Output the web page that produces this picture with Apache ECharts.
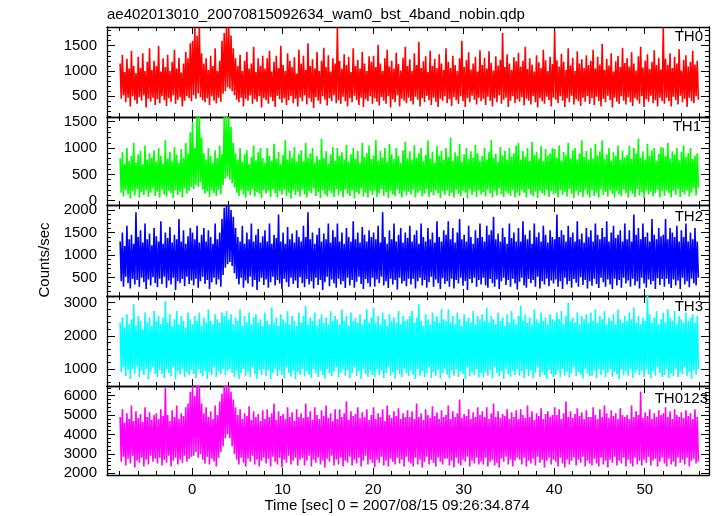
<!DOCTYPE html>
<html><head><meta charset="utf-8">
<script src="https://cdn.jsdelivr.net/npm/echarts@6/dist/echarts.min.js"></script>
<style>html,body{margin:0;padding:0;background:#fff}#c{width:717px;height:516px}</style>
</head><body><div id="c"></div>
<script>
const chartTitle = 'ae402013010_20070815092634_wam0_bst_4band_nobin.qdp';
const xTitle = 'Time [sec] 0 = 2007/08/15 09:26:34.874';
const yTitle = 'Counts/sec';
const bandNames = ['TH0', 'TH1', 'TH2', 'TH3', 'TH0123'];
// sampling grid of the light curves (seconds)
const tStart = -7.95, tStep = 0.125;
const xTickLabels = [0, 10, 20, 30, 40, 50];
const th0Ticks = [500, 1000, 1500];
const th1Ticks = [0, 500, 1000, 1500];
const th2Ticks = [500, 1000, 1500, 2000];
const th3Ticks = [1000, 2000, 3000];
const th0123Ticks = [2000, 3000, 4000, 5000, 6000];

const th0 = [
1150,450,1320,520,980,380,1240,470,1050,300,1400,500,1100,420,960,350,1280,480,1060,410,1350,520,1000,280,1180,450,1450,390,1020,470,1200,330,
1100,440,1500,360,990,500,1250,420,1080,310,1320,460,1000,390,1180,520,1420,350,1050,430,1260,480,970,300,1150,410,1380,500,1250,460,1550,400,
1600,520,1860,450,1700,560,1860,480,1350,420,1150,380,1250,460,1020,330,1300,500,1100,410,1450,360,1000,470,1200,390,1600,550,1750,600,1860,680,
1860,650,1700,600,1450,520,1250,430,1100,380,1320,470,1000,300,1200,450,1380,410,1050,520,1150,350,1480,440,980,390,1250,500,1100,280,1300,460,
1050,420,1250,350,1400,480,990,400,1180,290,1300,510,1060,440,1500,370,1120,460,1000,330,1350,420,1200,500,1080,360,1270,450,950,300,1420,470,
1150,400,1300,520,1020,340,1550,460,1100,390,1230,270,1050,480,1380,410,1000,350,1200,500,1460,430,1080,320,1310,460,990,400,1250,520,1150,360,
1860,420,1200,350,1050,490,1330,400,1120,300,1280,460,980,380,1450,510,1100,420,1220,330,1050,470,1380,290,1150,440,1000,400,1290,500,1180,350,
1300,460,1080,390,1520,320,1150,480,1000,410,1250,350,1420,500,1090,280,1200,440,1050,380,1360,520,1140,300,1010,450,1260,410,1480,360,1100,470,
1230,400,1000,340,1350,490,1120,430,1580,300,1060,460,1190,380,1290,510,980,420,1400,330,1100,470,1240,390,1060,290,1330,450,1150,410,1020,500,
1450,360,1180,440,1060,310,1300,480,1120,420,1000,350,1250,500,1600,400,1080,290,1210,460,1370,380,1030,510,1150,430,1280,340,990,470,1410,400,
1120,450,1260,330,1050,490,1390,410,1160,300,1010,460,1290,380,1110,520,1220,350,1750,430,1080,470,1330,290,1150,410,1020,500,1270,360,1190,440,
1360,390,1090,480,1200,320,1480,450,1040,410,1250,340,1130,500,990,380,1310,280,1170,460,1060,400,1420,350,1210,490,1000,420,1280,300,1140,470,
1800,430,1210,360,1090,500,1340,410,1180,290,1020,460,1450,380,1110,510,1260,340,1000,440,1390,400,1150,310,1230,470,1060,390,1310,500,1120,350,
1200,460,1420,330,1050,490,1280,400,1130,300,1540,450,1020,380,1240,510,1110,420,1350,280,990,470,1190,390,1300,350,1080,500,1460,410,1160,340,
1250,480,1090,380,1370,310,1150,460,1010,420,1290,350,1480,500,1070,290,1200,440,1330,390,1040,510,1180,360,1410,420,1120,300,1260,470,1030,400,
1860,350,1240,470,1120,400,1350,300,1060,490,1280,420,1150,340,1430,510,1010,380,1220,450,1310,290,1090,470,1180,400,1400,360,1130,500,1200,430
];
const th1 = [
800,150,920,80,700,200,1000,120,760,40,850,180,1100,100,720,220,880,60,950,160,690,110,1050,200,780,70,900,150,820,230,960,90,
740,170,1000,60,850,210,700,120,1150,80,800,190,930,140,760,50,1020,200,870,110,720,170,980,60,810,230,1100,130,900,190,1300,260,
1500,220,1000,300,1590,260,1590,350,1200,210,900,130,780,180,1000,70,850,200,720,140,960,90,810,210,1050,120,880,300,1590,420,1590,460,
1590,400,1400,330,1100,250,900,150,780,90,1000,200,740,120,880,60,960,180,700,110,830,220,1050,80,770,160,920,130,1000,50,810,200,
720,130,1000,190,850,70,760,220,1080,140,800,60,930,180,700,120,870,210,1150,90,780,150,950,40,820,200,1020,110,740,170,890,80,
960,210,750,120,1100,60,820,180,900,140,1000,230,720,90,850,160,780,50,1180,200,810,120,940,80,700,190,880,140,1020,70,760,220,
1000,100,850,180,920,60,780,210,1060,130,740,90,880,200,1000,40,800,160,950,120,720,230,1100,80,830,150,900,60,1050,190,790,110,
860,200,1150,70,760,140,950,220,820,90,1000,160,740,50,1080,190,880,120,790,80,1000,210,850,130,720,60,960,180,1120,100,800,170,
940,120,780,210,1050,60,820,150,900,190,1000,80,750,130,870,220,1150,70,800,160,930,100,720,200,1040,140,860,50,950,180,780,110,
1000,200,830,90,1200,150,760,60,920,210,850,130,1080,80,740,190,880,150,1000,40,790,220,940,110,820,170,1060,70,900,200,760,120,
850,160,1000,80,780,210,930,140,1150,60,820,190,890,100,740,230,1020,120,860,70,950,180,780,130,1000,90,840,210,900,60,1050,150,
1100,90,780,200,950,150,840,60,1000,220,760,120,1120,80,870,170,930,50,800,190,1040,140,750,100,980,210,860,70,900,180,1000,120,
980,140,820,60,1050,200,760,110,930,170,870,80,1100,220,800,130,960,50,1000,190,780,100,900,160,1150,70,830,210,950,120,780,60,
1000,200,800,90,1080,150,860,60,940,220,1150,110,790,170,880,80,1000,200,760,130,920,60,850,190,1050,120,780,80,950,210,820,140,
870,60,1050,190,790,130,1000,70,900,220,1180,100,820,160,940,50,780,200,1080,120,850,170,960,80,1000,140,760,210,890,60,1020,180,
1000,90,850,200,1100,140,800,60,940,190,880,110,1000,220,770,70,930,160,1050,120,830,200,900,80,1000,150,790,230,860,100,900,250
];
const th2 = [
1300,420,1500,300,1200,520,1650,380,1350,260,1450,470,1250,350,1950,450,1400,300,1550,500,1280,400,1700,250,1350,460,1480,330,1220,510,1600,380,
1420,290,1300,480,1750,360,1250,520,1500,280,1380,440,1620,350,1280,500,1450,230,1350,420,1800,380,1300,470,1550,310,1250,520,1420,360,1600,440,
1500,330,1350,480,1650,280,1280,420,1450,520,1600,360,1300,450,1550,250,1400,400,1250,500,1700,350,1350,460,1500,300,1800,560,2050,720,2110,800,
2110,850,2000,760,1850,600,1600,480,1400,350,1300,500,1650,280,1250,440,1500,370,1350,520,1700,300,1300,450,1450,230,1580,410,1280,500,1420,340,
1550,460,1300,280,1700,400,1250,520,1450,330,1380,450,1900,370,1300,250,1500,480,1250,400,1620,300,1350,500,1480,360,1280,440,1550,270,1400,510,
1300,380,1650,290,1400,470,1950,350,1350,420,1500,260,1250,500,1450,340,1600,450,1300,230,1480,400,1350,520,1700,310,1280,460,1550,370,1400,280,
1700,480,1300,350,1500,420,1250,270,1600,500,1400,330,1300,450,1750,280,1350,410,1500,520,1280,360,1620,250,1450,470,1300,380,1550,300,1400,500,
1500,300,1350,460,1650,380,1280,520,1950,330,1400,420,1250,270,1550,480,1350,350,1700,450,1300,240,1450,500,1600,370,1280,430,1500,310,1380,480,
1650,350,1300,480,1450,260,1550,420,1250,500,1700,330,1400,450,1300,280,1600,400,1350,520,1500,300,1280,460,1750,380,1400,250,1300,490,1550,360,
1450,420,1750,300,1350,480,1600,260,1280,450,1500,370,1800,500,1350,320,1450,430,1300,230,1650,470,1400,380,1250,500,1550,300,1380,450,1700,350,
1400,500,1300,330,1650,280,1450,470,1550,380,1850,300,1350,460,1480,250,1300,420,1600,500,1400,340,1250,450,1700,300,1380,480,1500,370,1300,240,
1600,410,1300,500,1750,330,1450,280,1350,470,1550,380,1250,450,1700,300,1400,520,1500,260,1300,420,1650,350,1450,480,1280,310,1550,440,1400,370,
1350,460,1900,300,1400,420,1550,250,1450,500,1300,350,1650,430,1400,280,1500,470,1300,390,1750,300,1350,510,1480,340,1280,450,1600,260,1400,420,
1550,320,1300,480,1700,360,1450,270,1350,500,1600,400,1400,300,1750,460,1300,350,1500,250,1650,480,1380,330,1450,450,1550,280,1300,500,1700,370,
1350,440,1550,300,1300,480,1900,330,1450,420,1600,260,1350,500,1700,370,1400,280,1500,460,1300,350,1800,430,1450,250,1350,490,1600,340,1420,470,
1450,300,1800,480,1350,360,1600,270,1500,460,1400,330,1650,440,1300,250,1550,500,1400,350,1700,420,1300,290,1500,480,1350,380,1600,330,1300,500
];
const th3 = [
2400,900,2550,1050,2250,780,2650,980,2350,700,2500,1000,2950,860,2300,1080,2600,750,2450,950,2200,820,2700,1000,2400,680,2550,920,2300,1050,2750,850,
2450,760,2600,980,2350,850,2550,720,3050,1000,2400,880,2650,790,2300,1050,2500,700,2750,930,2350,840,2600,1000,2450,760,2250,900,2700,820,2500,980,
2350,850,2600,720,2450,1000,2700,870,2300,780,2550,950,2400,700,2800,900,2450,820,2350,1050,2650,760,2500,930,2400,850,2700,1000,2600,820,2750,950,
2500,1000,2650,880,2350,760,2550,950,2450,700,2800,870,2300,1000,2600,800,2400,920,2700,750,2350,1050,2550,850,2650,700,2400,960,2500,820,2300,1000,
2700,780,2450,950,2350,700,2850,880,2400,1000,2550,790,2300,960,2650,820,2500,730,2400,1050,2750,880,2350,770,2600,950,2450,700,2300,900,2700,830,
2400,1000,2600,780,2900,950,2350,830,2550,720,2450,1000,2700,880,2300,760,2500,950,2650,820,2400,700,2550,1000,2350,860,2750,780,2450,920,2600,1050,
2500,740,2350,890,2800,1000,2450,800,2600,960,2300,720,2700,870,2450,1050,2550,790,2400,930,2650,700,2350,1000,2500,850,2800,760,2400,950,2550,820,
2850,760,2400,1000,2600,820,2350,950,2700,720,2500,880,2300,1050,2650,800,2450,900,2550,700,2400,980,2750,840,2350,760,2600,1000,2450,870,2500,780,
2600,950,2750,820,2400,700,2550,1000,2950,800,2450,940,2300,760,2650,880,2500,1050,2350,730,2700,900,2450,800,2600,970,2400,710,2800,880,2500,1000,
2450,830,2800,720,2400,950,2600,800,2350,1000,2700,760,2500,920,2300,850,2650,700,2450,1050,2550,780,2400,900,2750,820,2350,1000,2600,740,2500,880,
2650,750,2450,900,2850,800,2400,960,2600,720,2500,1050,2350,880,2700,790,2450,930,2550,700,2300,1000,2650,840,2400,770,2750,950,2500,820,2350,1000,
2600,800,2900,940,2450,730,2650,1000,2400,790,2550,950,2350,720,2800,890,2500,1050,2400,760,2700,900,2450,820,2550,700,2350,980,2650,850,2500,760,
2450,820,2700,950,2500,760,2750,1000,2350,800,2600,920,3000,740,2450,870,2550,1050,2400,780,2700,900,2350,830,2600,710,2500,1000,2650,860,2400,790,
2700,800,2450,950,2800,720,2400,1000,2600,820,2500,960,2750,750,2350,890,2550,1000,2450,770,2650,920,2350,840,2800,700,2500,980,2400,810,2600,940,
2450,800,2700,1000,2500,730,2850,870,2400,960,2600,810,2350,950,2550,760,2450,1000,3200,840,2650,720,2400,930,2550,800,2750,1050,2350,880,2500,760,
2700,820,2400,1000,2800,730,2550,880,2450,790,2750,1000,2350,760,2600,920,2500,850,2400,1050,2700,780,2450,900,2550,700,2650,960,2400,830,2600,1000
];
const th0123 = [
4900,2600,5300,2850,4600,2400,5100,2750,4800,2500,5500,2900,4700,2300,5200,2650,4850,2550,5050,2800,4650,2350,5400,2700,4900,2450,5150,2900,4750,2600,5000,2750,
5100,2500,4800,2800,5300,2400,4950,2700,6400,2550,5000,2900,4700,2350,5250,2650,4900,2800,5500,2450,4800,2700,5100,2550,4950,2900,5400,2600,5600,2750,6200,2850,
6500,2900,6000,3100,6500,2800,6500,3000,5600,2700,5100,2500,5400,2850,4900,2450,5200,2750,4800,2600,5500,2350,5000,2800,5700,3100,6100,3400,6500,3800,6500,4000,
6500,3800,6200,3400,5800,3000,5400,2700,5000,2450,5300,2800,4800,2550,5100,2350,4950,2750,5450,2600,4750,2900,5200,2450,4900,2700,5050,2350,4700,2650,5250,2800,
4800,2500,5300,2750,4900,2350,5100,2850,5600,2600,4750,2450,5200,2800,4950,2300,5050,2700,4800,2550,5400,2900,4900,2450,5150,2650,4700,2800,5300,2400,4900,2700,
5100,2800,4850,2400,5600,2650,4900,2900,5200,2350,4750,2700,5400,2550,5000,2800,4800,2450,5250,2650,4950,2300,5500,2750,4850,2600,5100,2900,4700,2400,5300,2700,
4800,2450,5300,2800,4900,2350,5100,2650,5700,2550,4750,2850,5200,2400,4950,2700,5050,2500,5400,2800,4850,2350,5150,2650,4900,2900,5300,2450,4750,2700,5000,2550,
5400,2300,4800,2700,5100,2550,4900,2850,5300,2400,4700,2650,5500,2350,5000,2750,4850,2600,5200,2450,4950,2800,5350,2500,4800,2700,5100,2350,4900,2850,5250,2600,
4900,2500,5200,2350,4800,2800,5600,2450,4900,2700,5100,2300,4750,2600,5300,2850,5000,2450,4850,2700,5450,2550,4950,2350,5150,2800,4800,2600,5250,2450,4900,2750,
5000,2750,5500,2400,4800,2650,5200,2300,4900,2800,5100,2500,5800,2400,4850,2700,5050,2600,4950,2850,5300,2350,4800,2650,5150,2500,4900,2800,5400,2450,5000,2600,
5200,2450,4900,2800,5400,2350,4800,2600,5100,2700,5600,2400,4900,2550,5200,2300,4850,2750,5050,2600,4950,2850,5300,2450,4800,2700,5150,2350,4900,2650,5250,2800,
4800,2700,5300,2450,5000,2800,4850,2350,5500,2650,4900,2500,5200,2750,4750,2400,5100,2850,4950,2550,5350,2700,4800,2300,5050,2650,5200,2800,4900,2450,5000,2700,
5400,2600,5000,2350,5300,2800,4800,2500,5100,2300,5700,2700,4900,2450,5200,2650,4850,2800,5050,2400,5350,2700,4950,2550,5150,2850,4800,2350,5250,2650,4900,2500,
4900,2400,5400,2750,5000,2500,4800,2350,5300,2800,4900,2450,5500,2650,5100,2300,4850,2700,5250,2550,4950,2850,5100,2400,4800,2650,5350,2500,5000,2800,4900,2350,
5000,2700,4800,2500,5500,2350,4900,2800,5200,2450,5000,2650,6200,2400,4850,2700,5150,2550,4950,2850,5300,2400,4800,2650,5100,2750,4900,2350,5250,2600,5000,2800,
5100,2500,5400,2350,4900,2750,5200,2450,4800,2600,5300,2350,5000,2800,4900,2550,5150,2700,4850,2450,5250,2800,4950,2350,5100,2650,4800,2750,5300,2500,4900,2600
];

const bandValues = [th0, th1, th2, th3, th0123];
const bandTicks = [th0Ticks, th1Ticks, th2Ticks, th3Ticks, th0123Ticks];

// ---- layout & style ----
const FONT = "'Liberation Sans', Arial, Helvetica, sans-serif";
const INK = '#000';
const xMin = -9.4, xMax = 57.1;
const layout = [
  {top: 27,  height: 90, min: 90,   max: 1870, minorStep: 100, color: '#ff0000', labelRight: 703, labelY: 37},
  {top: 117, height: 88, min: -82,  max: 1590, minorStep: 100, color: '#00ff00', labelRight: 701, labelY: 127},
  {top: 205, height: 91, min: 95,   max: 2110, minorStep: 100, color: '#0000ff', labelRight: 703, labelY: 217},
  {top: 296, height: 90, min: 487,  max: 3200, minorStep: 200, color: '#00ffff', labelRight: 703, labelY: 307},
  {top: 386, height: 89, min: 1912, max: 6500, minorStep: 200, color: '#ff00ff', labelRight: 708, labelY: 399}
];
const xMinorTicks = [];
for (let v = -8; v <= 56; v += 2) xMinorTicks.push(v);

const lineStyle = {color: INK, width: 1.3};
const plain = v => String(v);
const grids = [], xAxes = [], yAxes = [], series = [], graphics = [];

layout.forEach((L, gi) => {
  grids.push({left: 107, right: 8, top: L.top, height: L.height, containLabel: false});
  const minor = [];
  for (let v = Math.ceil(L.min / L.minorStep) * L.minorStep; v <= L.max; v += L.minorStep) minor.push(v);
  const isLast = gi === layout.length - 1;
  const xBase = xAxes.length;
  [['bottom', true], ['top', true], ['bottom', false], ['top', false]].forEach(([pos, major]) => {
    xAxes.push({
      gridIndex: gi, type: 'value', min: xMin, max: xMax, position: pos,
      axisLine: {show: major, onZero: false, lineStyle},
      axisTick: {show: true, inside: true, length: major ? 7 : 4, customValues: major ? xTickLabels : xMinorTicks, lineStyle: {color: INK, width: 1}},
      axisLabel: {show: isLast && major && pos === 'bottom', customValues: xTickLabels, margin: 7, formatter: plain,
        fontFamily: FONT, fontSize: 15, color: INK},
      splitLine: {show: false}
    });
  });
  const yBase = yAxes.length;
  [['left', true], ['right', true], ['left', false], ['right', false]].forEach(([pos, major]) => {
    yAxes.push({
      gridIndex: gi, type: 'value', min: L.min, max: L.max, position: pos,
      axisLine: {show: major, onZero: false, lineStyle},
      axisTick: {show: true, inside: true, length: major ? 8 : 4, customValues: major ? bandTicks[gi] : minor, lineStyle: {color: INK, width: 1}},
      axisLabel: {show: major && pos === 'left', customValues: bandTicks[gi], margin: 10, formatter: plain,
        fontFamily: FONT, fontSize: 15, color: INK},
      splitLine: {show: false}
    });
  });
  series.push({
    type: 'line', xAxisIndex: xBase, yAxisIndex: yBase,
    data: bandValues[gi].map((v, i) => [tStart + i * tStep, v]),
    showSymbol: false, symbol: 'none', sampling: null, smooth: false,
    lineStyle: {color: L.color, width: 1.6}, itemStyle: {color: L.color},
    clip: true, silent: true, z: 1
  });
  graphics.push({type: 'text', x: L.labelRight, y: L.labelY, z: 100,
    style: {text: bandNames[gi], fontFamily: FONT, fontSize: 15, fill: INK, align: 'right', verticalAlign: 'middle'}});
});

graphics.push({type: 'text', x: 107, y: 15, style: {text: chartTitle, fontFamily: FONT, fontSize: 15, fill: INK, align: 'left', verticalAlign: 'middle'}});
graphics.push({type: 'text', x: 397, y: 506, style: {text: xTitle, fontFamily: FONT, fontSize: 15, fill: INK, align: 'center', verticalAlign: 'middle'}});
graphics.push({type: 'text', x: 45, y: 260, rotation: Math.PI / 2, style: {text: yTitle, fontFamily: FONT, fontSize: 15, fill: INK, align: 'center', verticalAlign: 'middle'}});

const chart = echarts.init(document.getElementById('c'), null, {renderer: 'canvas'});
chart.setOption({
  animation: false,
  backgroundColor: '#fff',
  grid: grids, xAxis: xAxes, yAxis: yAxes, series, graphic: graphics
});
</script></body></html>
